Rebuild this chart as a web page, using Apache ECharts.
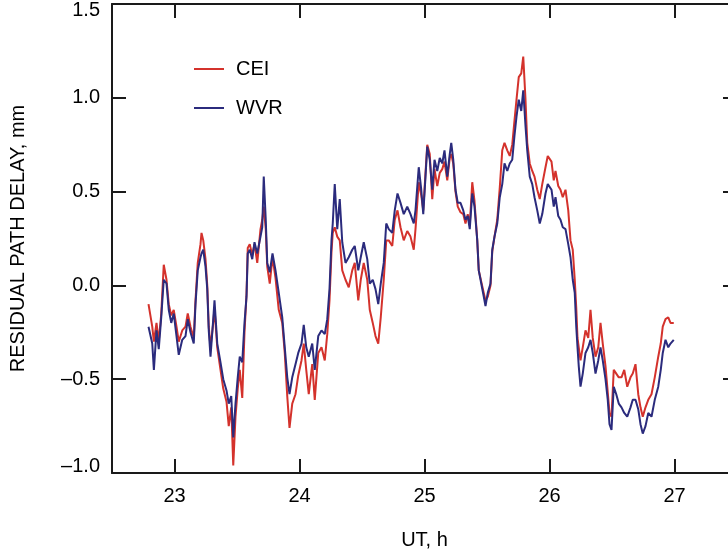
<!DOCTYPE html>
<html>
<head>
<meta charset="UTF-8">
<title>Residual path delay</title>
<script src="https://cdn.jsdelivr.net/npm/echarts@6/dist/echarts.min.js"></script>
<style>
  html, body { margin: 0; padding: 0; background: #fff; }
  #main { width: 728px; height: 552px; }
</style>
</head>
<body>
<div id="main"></div>
<script>
// time in UT hours, values in mm
var time = [
  22.792,22.822,22.835,22.856,22.874,22.894,22.914,22.936,22.954,22.974,
  22.994,23.016,23.034,23.062,23.088,23.106,23.128,23.154,23.168,23.186,
  23.208,23.216,23.230,23.248,23.262,23.274,23.288,23.310,23.320,23.342,
  23.368,23.390,23.416,23.434,23.454,23.470,23.488,23.506,23.522,23.542,
  23.560,23.576,23.586,23.602,23.622,23.640,23.662,23.688,23.702,23.714,
  23.730,23.742,23.762,23.784,23.808,23.834,23.862,23.882,23.902,23.920,
  23.942,23.968,23.990,24.016,24.034,24.054,24.074,24.102,24.122,24.150,
  24.176,24.202,24.222,24.240,24.256,24.266,24.282,24.302,24.322,24.342,
  24.368,24.394,24.422,24.442,24.470,24.490,24.514,24.542,24.562,24.586,
  24.608,24.630,24.650,24.674,24.694,24.714,24.742,24.762,24.784,24.808,
  24.834,24.862,24.888,24.914,24.928,24.954,24.974,24.990,25.008,25.022,
  25.042,25.062,25.080,25.102,25.122,25.142,25.160,25.182,25.202,25.214,
  25.230,25.248,25.266,25.288,25.310,25.328,25.346,25.362,25.382,25.400,
  25.422,25.434,25.454,25.474,25.488,25.506,25.528,25.542,25.560,25.582,
  25.602,25.622,25.640,25.662,25.682,25.702,25.720,25.736,25.754,25.774,
  25.790,25.808,25.822,25.842,25.862,25.880,25.902,25.922,25.942,25.968,
  25.986,26.016,26.034,26.048,26.070,26.088,26.106,26.128,26.150,26.168,
  26.186,26.202,26.214,26.224,26.234,26.248,26.266,26.288,26.310,26.328,
  26.346,26.368,26.390,26.408,26.426,26.448,26.466,26.480,26.496,26.514,
  26.534,26.554,26.576,26.598,26.622,26.648,26.666,26.688,26.710,26.728,
  26.746,26.768,26.790,26.816,26.842,26.870,26.890,26.906,26.928,26.950,
  26.968,26.994
];

var cei = [
  -0.10,-0.22,-0.30,-0.20,-0.30,-0.15,0.11,0.03,-0.10,-0.16,
  -0.13,-0.22,-0.30,-0.24,-0.22,-0.15,-0.22,-0.28,-0.08,0.12,
  0.22,0.28,0.24,0.14,0.00,-0.22,-0.33,-0.20,-0.12,-0.33,
  -0.45,-0.55,-0.62,-0.75,-0.65,-0.96,-0.70,-0.55,-0.45,-0.60,
  -0.25,-0.05,0.20,0.22,0.16,0.22,0.12,0.30,0.35,0.42,
  0.30,0.10,0.01,0.15,0.04,-0.13,-0.20,-0.36,-0.59,-0.76,
  -0.63,-0.58,-0.48,-0.40,-0.31,-0.45,-0.58,-0.42,-0.61,-0.36,
  -0.33,-0.40,-0.26,-0.08,0.18,0.28,0.31,0.26,0.24,0.08,
  0.03,-0.01,0.08,0.12,-0.08,0.03,0.12,0.03,-0.13,-0.20,
  -0.27,-0.31,-0.17,0.03,0.24,0.24,0.21,0.35,0.40,0.31,
  0.24,0.29,0.26,0.19,0.30,0.55,0.48,0.40,0.60,0.75,
  0.70,0.46,0.62,0.53,0.60,0.62,0.66,0.56,0.68,0.70,
  0.65,0.50,0.42,0.39,0.38,0.33,0.38,0.32,0.55,0.45,
  0.24,0.08,0.02,-0.04,-0.08,-0.06,0.00,0.18,0.26,0.35,
  0.52,0.72,0.76,0.72,0.69,0.75,0.88,0.99,1.11,1.13,
  1.22,0.99,0.76,0.65,0.61,0.58,0.51,0.46,0.54,0.63,
  0.69,0.66,0.56,0.61,0.53,0.51,0.47,0.51,0.40,0.24,
  0.19,0.03,-0.12,-0.28,-0.33,-0.40,-0.33,-0.24,-0.28,-0.13,
  -0.28,-0.38,-0.33,-0.20,-0.31,-0.43,-0.57,-0.68,-0.70,-0.45,
  -0.47,-0.49,-0.49,-0.45,-0.54,-0.49,-0.47,-0.42,-0.58,-0.65,
  -0.70,-0.65,-0.61,-0.58,-0.49,-0.38,-0.31,-0.22,-0.18,-0.17,
  -0.20,-0.20
];

var wvr = [
  -0.22,-0.31,-0.45,-0.24,-0.34,-0.17,0.03,0.01,-0.13,-0.20,
  -0.15,-0.27,-0.37,-0.29,-0.27,-0.18,-0.25,-0.31,-0.10,0.08,
  0.15,0.17,0.19,0.10,-0.02,-0.24,-0.38,-0.18,-0.08,-0.31,
  -0.41,-0.50,-0.56,-0.63,-0.59,-0.81,-0.63,-0.49,-0.38,-0.41,
  -0.20,-0.06,0.17,0.19,0.14,0.23,0.17,0.26,0.31,0.58,
  0.35,0.12,0.07,0.17,0.08,-0.04,-0.17,-0.33,-0.49,-0.58,
  -0.49,-0.42,-0.36,-0.31,-0.21,-0.33,-0.38,-0.31,-0.45,-0.27,
  -0.24,-0.26,-0.18,-0.02,0.24,0.33,0.54,0.30,0.46,0.23,
  0.12,0.15,0.19,0.21,0.08,0.15,0.23,0.14,0.01,0.03,
  -0.02,-0.10,0.01,0.12,0.33,0.30,0.28,0.40,0.49,0.44,
  0.38,0.42,0.38,0.33,0.40,0.63,0.51,0.38,0.58,0.74,
  0.67,0.51,0.67,0.61,0.68,0.65,0.72,0.58,0.70,0.76,
  0.67,0.51,0.44,0.44,0.40,0.35,0.37,0.30,0.49,0.42,
  0.24,0.08,0.01,-0.06,-0.11,-0.04,0.01,0.19,0.26,0.33,
  0.47,0.54,0.65,0.61,0.65,0.67,0.80,0.90,0.99,0.93,
  1.04,0.85,0.72,0.58,0.54,0.47,0.40,0.33,0.38,0.49,
  0.54,0.51,0.42,0.47,0.37,0.35,0.31,0.30,0.22,0.15,
  0.03,-0.04,-0.22,-0.33,-0.43,-0.54,-0.47,-0.36,-0.33,-0.29,
  -0.36,-0.47,-0.40,-0.33,-0.40,-0.50,-0.61,-0.74,-0.77,-0.54,
  -0.58,-0.63,-0.65,-0.68,-0.70,-0.65,-0.61,-0.61,-0.66,-0.74,
  -0.79,-0.75,-0.68,-0.70,-0.61,-0.54,-0.45,-0.36,-0.29,-0.33,
  -0.31,-0.29
];

var xTicks = [23, 24, 25, 26, 27];
var yMin = -1.0, yMax = 1.5, yStep = 0.5;

var font = "'Liberation Sans', Arial, Helvetica, sans-serif";
var axisColor = '#1a1a1a';

function pairs(vals) {
  return time.map(function (t, i) { return [t, vals[i]]; });
}

var chart = echarts.init(document.getElementById('main'), null, { renderer: 'canvas' });

var lineStyleAxis = { color: axisColor, width: 2 };

chart.setOption({
  animation: false,
  backgroundColor: '#fff',
  textStyle: { fontFamily: font, color: '#000' },
  grid: { left: 112, width: 625, top: 4, height: 469, containLabel: false, outerBoundsMode: 'none' },
  legend: {
    orient: 'vertical',
    left: 189,
    top: 54,
    itemWidth: 30,
    itemHeight: 2,
    itemGap: 19,
    icon: 'rect',
    textStyle: { fontFamily: font, fontSize: 20, color: '#000', padding: [0, 0, 0, 7] },
    data: ['CEI', 'WVR']
  },
  xAxis: [{
    type: 'value',
    position: 'bottom',
    min: 22.5, max: 27.5,
    name: 'UT, h',
    nameLocation: 'middle',
    nameGap: 57,
    nameTextStyle: { fontFamily: font, fontSize: 20, color: '#000' },
    axisLine: { show: true, onZero: false, lineStyle: lineStyleAxis },
    axisTick: { show: true, inside: true, length: 14, lineStyle: lineStyleAxis, customValues: xTicks },
    axisLabel: { fontFamily: font, fontSize: 20, color: '#000', margin: 13, customValues: xTicks },
    splitLine: { show: false }
  }, {
    type: 'value',
    position: 'top',
    min: 22.5, max: 27.5,
    axisLine: { show: true, onZero: false, lineStyle: lineStyleAxis },
    axisTick: { show: true, inside: true, length: 14, lineStyle: lineStyleAxis, customValues: xTicks },
    axisLabel: { show: false },
    splitLine: { show: false }
  }],
  yAxis: [{
    type: 'value',
    position: 'left',
    min: yMin, max: yMax, interval: yStep,
    name: 'RESIDUAL PATH DELAY, mm',
    nameLocation: 'middle',
    nameGap: 84,
    nameRotate: 90,
    nameTextStyle: { fontFamily: font, fontSize: 20, color: '#000' },
    axisLine: { show: true, onZero: false, lineStyle: lineStyleAxis },
    axisTick: { show: true, inside: true, length: 14, lineStyle: lineStyleAxis },
    axisLabel: {
      fontFamily: font, fontSize: 20, color: '#000', margin: 12,
      formatter: function (v) {
        var s = v.toFixed(1).replace('-', '\u2013');
        if (v === yMax) return '{hi|' + s + '}';
        if (v === yMin) return '{lo|' + s + '}';
        return s;
      },
      rich: {
        hi: { fontFamily: font, fontSize: 20, color: '#000', padding: [12, 0, 0, 0] },
        lo: { fontFamily: font, fontSize: 20, color: '#000', padding: [0, 0, 14, 0] }
      }
    },
    splitLine: { show: false }
  }, {
    type: 'value',
    position: 'right',
    min: yMin, max: yMax, interval: yStep,
    axisLine: { show: true, onZero: false, lineStyle: lineStyleAxis },
    axisTick: { show: true, inside: true, length: 14, lineStyle: lineStyleAxis },
    axisLabel: { show: false },
    splitLine: { show: false }
  }],
  series: [{
    name: 'CEI',
    type: 'line',
    data: pairs(cei),
    showSymbol: false,
    symbol: 'none',
    lineStyle: { color: '#d4322c', width: 2 },
    itemStyle: { color: '#d4322c' }
  }, {
    name: 'WVR',
    type: 'line',
    data: pairs(wvr),
    showSymbol: false,
    symbol: 'none',
    lineStyle: { color: '#2b2b7d', width: 2 },
    itemStyle: { color: '#2b2b7d' }
  }]
});
</script>
</body>
</html>
